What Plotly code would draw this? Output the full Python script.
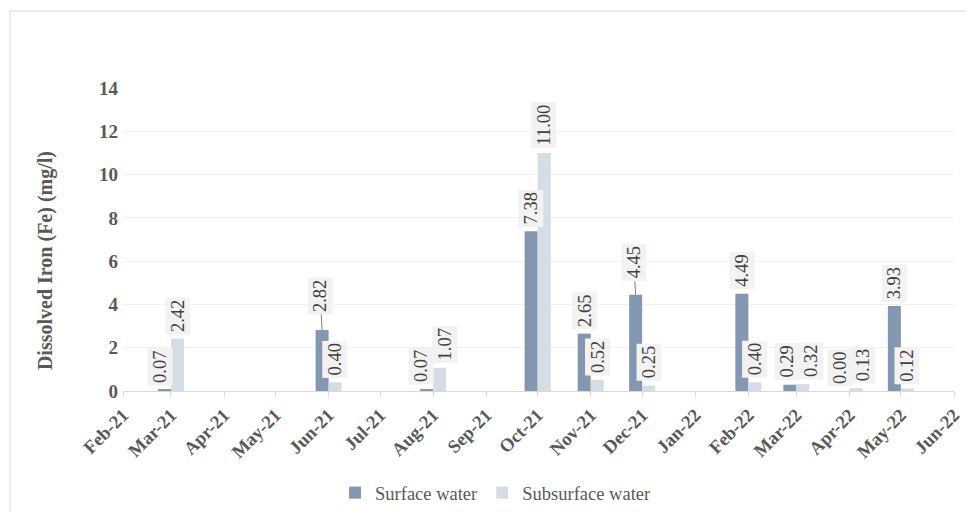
import plotly.graph_objects as go

dates = ["2021-03-01", "2021-06-01", "2021-08-01", "2021-10-01", "2021-11-01",
         "2021-12-01", "2022-02-01", "2022-03-01", "2022-04-01", "2022-05-01"]
surface = [0.07, 2.82, 0.07, 7.38, 2.65, 4.45, 4.49, 0.29, 0.00, 3.93]
subsurface = [2.42, 0.40, 1.07, 11.00, 0.52, 0.25, 0.40, 0.32, 0.13, 0.12]
series_names = ["Surface water", "Subsurface water"]

DAY = 86400000
BAR_W = 7.6 * DAY
C_SURF = "#8497b0"
C_SUB = "#d6dce5"
FONT = "Liberation Serif"
TXT = "#595959"

fig = go.Figure()
fig.add_trace(go.Bar(x=dates, y=surface, name=series_names[0], marker_color=C_SURF,
                     width=BAR_W, offset=-BAR_W, marker_line_width=0))
fig.add_trace(go.Bar(x=dates, y=subsurface, name=series_names[1], marker_color=C_SUB,
                     width=BAR_W, offset=0, marker_line_width=0))

# label nudges (pixels) – styling only
leader = {("s", 1): 34, ("s", 5): 32}
nudge_x = {("s", 0): -4, ("s", 2): -5, ("b", 2): 5,
           ("s", 7): -3, ("b", 7): 8, ("s", 8): -3, ("b", 8): 7}

annotations = []
for key, vals, sx in (("s", surface, -6.5), ("b", subsurface, 6.5)):
    for i, (d, v) in enumerate(zip(dates, vals)):
        common = dict(x=d, y=v, xref="x", yref="y", text=f"{v:.2f}", textangle=-90,
                      font=dict(family=FONT, size=18.5, color="#404040"),
                      bgcolor="#f2f2f2", borderpad=2)
        if (key, i) in leader:
            annotations.append(dict(common, showarrow=True, arrowhead=0, arrowwidth=1,
                                    arrowcolor="#7f7f7f", ax=-2, ay=-leader[(key, i)],
                                    xshift=sx, standoff=0))
        else:
            annotations.append(dict(common, showarrow=False, yanchor="bottom",
                                    xanchor="center", yshift=4,
                                    xshift=sx + nudge_x.get((key, i), 0)))

annotations.append(dict(text="Dissolved Iron (Fe) (mg/l)", xref="paper", yref="paper",
                        x=-0.0939, y=0.432, xanchor="center", yanchor="middle",
                        textangle=-90, showarrow=False,
                        font=dict(family=FONT, size=20, color=TXT, weight="bold")))

# page body has an 8px margin: figure is sized/offset to compensate
fig.update_layout(
    width=966, height=504,
    margin=dict(l=115, r=20, t=80, b=121, autoexpand=False),
    paper_bgcolor="white", plot_bgcolor="white",
    barmode="overlay",
    showlegend=True,
    legend=dict(orientation="h", x=0.4483, xanchor="center", y=-0.337, yanchor="middle",
                font=dict(family=FONT, size=18.5, color=TXT), itemwidth=30),
    annotations=annotations,
    shapes=[dict(type="rect", xref="paper", yref="paper",
                 x0=(10 - 123) / 831, x1=(990 - 123) / 831,
                 y0=(391 - 530) / 303, y1=(391 - 11) / 303,
                 line=dict(color="#d9d9d9", width=1), fillcolor="rgba(0,0,0,0)")],
    xaxis=dict(type="date", range=["2021-02-01", "2022-06-01"], tick0="2021-02-01",
               dtick="M1", tickformat="%b-%y", tickangle=-45, showgrid=False,
               showline=True, linecolor="#d9d9d9", linewidth=1,
               ticks="outside", ticklen=5, tickcolor="#d9d9d9",
               tickfont=dict(family=FONT, size=18.5, color=TXT, weight="bold")),
    yaxis=dict(range=[0, 14], dtick=2, showgrid=True, gridcolor="#f0f0f0",
               zeroline=False, showline=False, ticks="", ticklabelstandoff=4,
               tickfont=dict(family=FONT, size=19, color=TXT, weight="bold")),
)

fig.write_html("out.html")
